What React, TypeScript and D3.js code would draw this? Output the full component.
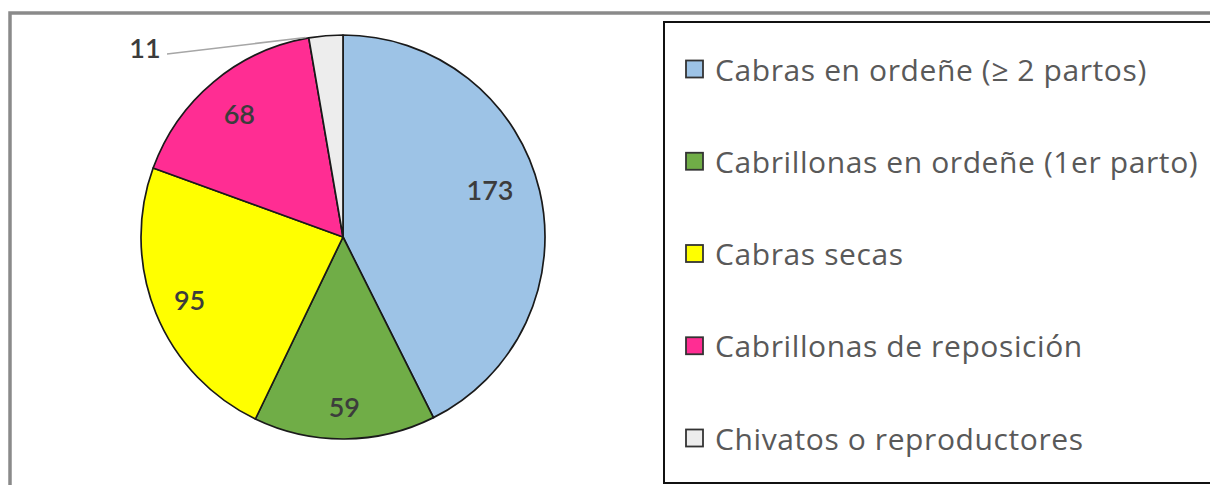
import React from "react";
import * as d3 from "d3";

const categories = [
  "Cabras en ordeñe (≥ 2 partos)",
  "Cabrillonas en ordeñe (1er parto)",
  "Cabras secas",
  "Cabrillonas de reposición",
  "Chivatos o reproductores",
];
const values = [173, 59, 95, 68, 11];
const colors = ["#9DC3E6", "#70AD47", "#FFFF00", "#FF2D93", "#EDEDED"];

// layout constants
const W = 1210;
const H = 485;
const CX = 343;
const CY = 237;
const R = 202;
const labelRadius = [0.765, 0.84, 0.82, 0.8, 0];
const labelShift = [-0.082, 0, 0, 0, 0];
const LABEL_FONT = "Lato, 'Open Sans', sans-serif";
const LEGEND_FONT = "'Open Sans', Lato, sans-serif";

export default function App() {
  React.useEffect(() => {
    document.body.style.margin = "0";
  }, []);

  const pie = d3
    .pie<number>()
    .sort(null)
    .value((d) => d)
    .startAngle(0)
    .endAngle(2 * Math.PI);
  const arcs = pie(values);
  const arc = d3.arc<d3.PieArcDatum<number>>().innerRadius(0).outerRadius(R);

  const polar = (a: number, r: number) => [CX + r * Math.sin(a), CY - r * Math.cos(a)];

  const last = arcs[4];
  const lastMid = (last.startAngle + last.endAngle) / 2;
  const [lx, ly] = polar(lastMid - 0.1, R + 1);

  const legendY = d3.scalePoint<number>().domain(d3.range(categories.length)).range([69, 438]);

  return (
    <svg width={W} height={H} style={{ display: "block" }}>
      <rect x={0} y={0} width={W} height={H} fill="#fff" />
      {/* outer frame */}
      <rect x={10} y={13} width={W + 20} height={H + 20} fill="none" stroke="#8a8a8a" strokeWidth={3.5} />
      {/* pie */}
      <g transform={`translate(${CX},${CY})`}>
        {arcs.map((a, i) => (
          <path key={i} d={arc(a) as string} fill={colors[i]} stroke="#1a1a1a" strokeWidth={1.7} strokeLinejoin="round" />
        ))}
      </g>
      {arcs.map((a, i) => {
        if (i === 4) return null;
        const mid = (a.startAngle + a.endAngle) / 2 + labelShift[i];
        const [x, y] = polar(mid, R * labelRadius[i]);
        return (
          <text
            key={i}
            x={x}
            y={y}
            textAnchor="middle"
            dominantBaseline="central"
            fontFamily={LABEL_FONT}
            fontSize={27}
            fontWeight={600}
            fill="#3c3c3c"
          >
            {values[i]}
          </text>
        );
      })}
      {/* outside label for small slice */}
      <line x1={167} y1={54} x2={lx} y2={ly} stroke="#a6a6a6" strokeWidth={1.5} />
      <text x={145} y={47} textAnchor="middle" dominantBaseline="central" fontFamily={LABEL_FONT} fontSize={27} fontWeight={600} fill="#3c3c3c">
        {values[4]}
      </text>
      {/* legend */}
      <rect x={664} y={22} width={W} height={461} fill="#fff" stroke="#111" strokeWidth={2} />
      {categories.map((c, i) => {
        const y = legendY(i) as number;
        return (
          <g key={i}>
            <rect x={686} y={y - 8.5} width={17} height={17} fill={colors[i]} stroke="#333" strokeWidth={1.8} />
            <text
              x={715}
              y={y}
              dominantBaseline="central"
              fontFamily={LEGEND_FONT}
              fontSize={30}
              letterSpacing={0.6}
              fill="#595959"
            >
              {c}
            </text>
          </g>
        );
      })}
    </svg>
  );
}
